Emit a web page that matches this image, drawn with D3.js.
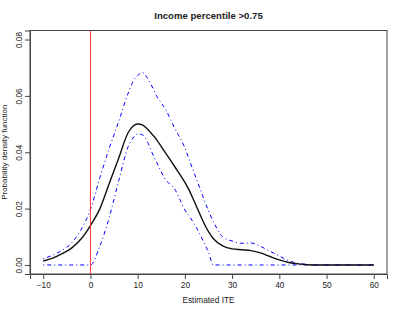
<!DOCTYPE html>
<html>
<head>
<meta charset="utf-8">
<script src="https://cdn.jsdelivr.net/npm/d3@7"></script>
<style>
  body { margin: 0; background: #fff; }
  svg text { font-family: "Liberation Sans", Arial, sans-serif; fill: #222; }
</style>
</head>
<body>
<div id="chart"></div>
<script>
// shared grid of x values (Estimated ITE)
const ite = [-10, -8, -6, -4, -2, 0, 2, 4, 6, 8, 9, 10, 11, 12, 13, 14, 15, 16, 17, 18, 19, 20,
  21, 22, 23, 24, 25, 26, 28, 30, 32, 34, 36, 38, 40, 42, 44, 46, 48, 50, 55, 60];

// density estimate
const density = [0.0014, 0.0024, 0.0040, 0.0060, 0.0092, 0.0140, 0.0200, 0.0290, 0.0380, 0.0470,
  0.0492, 0.0500, 0.0497, 0.0483, 0.0465, 0.0445, 0.0420, 0.0395, 0.0370, 0.0345, 0.0320, 0.0293,
  0.0262, 0.0225, 0.0187, 0.0150, 0.0118, 0.0094, 0.0068, 0.0057, 0.0054, 0.0051, 0.0043, 0.0030,
  0.0018, 0.0009, 0.0004, 0.0001, 0, 0, 0, 0];

// upper band
const upper = [0.0022, 0.0035, 0.0052, 0.0078, 0.0125, 0.0197, 0.0310, 0.0415, 0.0510, 0.0610,
  0.0650, 0.0672, 0.0683, 0.0665, 0.0635, 0.0600, 0.0575, 0.0550, 0.0515, 0.0480, 0.0450, 0.0415,
  0.0370, 0.0325, 0.0280, 0.0235, 0.0192, 0.0155, 0.0100, 0.0085, 0.0077, 0.0078, 0.0066, 0.0049,
  0.0032, 0.0015, 0.0006, 0.0002, 0, 0, 0, 0];

// lower band
const lower = [0, 0, 0, 0, 0, 0, 0.0067, 0.0170, 0.0300, 0.0420,
  0.0450, 0.0465, 0.0462, 0.0440, 0.0400, 0.0365, 0.0330, 0.0300, 0.0285, 0.0265, 0.0230, 0.0195,
  0.0172, 0.0145, 0.0115, 0.0080, 0.0045, 0, 0, 0, 0, 0, 0, 0,
  0, 0, 0, 0, 0, 0, 0, 0];

const xTicks = [-10, 0, 10, 20, 30, 40, 50, 60];
const yTicks = [0, 0.02, 0.04, 0.06, 0.08];

const W = 403, H = 312;
const box = {left: 30, right: 387, top: 30.5, bottom: 274};

const svg = d3.select("#chart").append("svg")
    .attr("width", W)
    .attr("height", H);

// R style 4% axis extension
const x = d3.scaleLinear().domain([-12.8, 62.8]).range([box.left, box.right]);
const y = d3.scaleLinear().domain([-0.0032, 0.0832]).range([box.bottom, box.top]);

const xAxis = d3.axisBottom(x).tickValues(xTicks).tickSize(5).tickPadding(3);
const yAxis = d3.axisLeft(y).tickValues(yTicks).tickSize(5).tickPadding(3)
    .tickFormat(d3.format(".2f"));

svg.append("g")
    .attr("transform", `translate(0,${box.bottom})`)
    .call(xAxis)
    .call(g => g.selectAll("text").style("font-size", "8.3px").attr("fill", "#222"))
    .call(g => g.selectAll("line,path").attr("stroke", "#444"));

const gy = svg.append("g")
    .attr("transform", `translate(${box.left},0)`)
    .call(yAxis)
    .call(g => g.selectAll("line,path").attr("stroke", "#444"));

gy.selectAll("text")
    .style("font-size", "8.3px")
    .attr("fill", "#222")
    .attr("text-anchor", "middle")
    .attr("dy", null)
    .attr("x", null)
    .attr("transform", "translate(-8,0) rotate(-90)");

// plot box
svg.append("rect")
    .attr("x", box.left)
    .attr("y", box.top)
    .attr("width", box.right - box.left)
    .attr("height", box.bottom - box.top)
    .attr("fill", "none")
    .attr("stroke", "#444")
    .attr("stroke-width", 1);

const rows = ite.map((v, i) => ({x: v, d: density[i], up: upper[i], lo: lower[i]}));

const line = key => d3.line()
    .x(d => x(d.x))
    .y(d => y(d[key]))
    .curve(d3.curveMonotoneX);

svg.append("path")
    .datum(rows)
    .attr("d", line("up"))
    .attr("fill", "none")
    .attr("stroke", "#0000ff")
    .attr("stroke-width", 1)
    .attr("stroke-dasharray", "1,3,4,3");

svg.append("path")
    .datum(rows)
    .attr("d", line("lo"))
    .attr("fill", "none")
    .attr("stroke", "#0000ff")
    .attr("stroke-width", 1)
    .attr("stroke-dasharray", "1,3,4,3");

svg.append("path")
    .datum(rows)
    .attr("d", line("d"))
    .attr("fill", "none")
    .attr("stroke", "#111")
    .attr("stroke-width", 1.4);

// reference line at zero
svg.append("line")
    .attr("x1", x(0)).attr("x2", x(0))
    .attr("y1", box.top).attr("y2", box.bottom)
    .attr("stroke", "#ff3333")
    .attr("stroke-width", 1);

svg.append("text")
    .attr("x", (box.left + box.right) / 2)
    .attr("y", 18.5)
    .attr("text-anchor", "middle")
    .style("font-size", "9.6px")
    .style("font-weight", "bold")
    .text("Income percentile >0.75");

svg.append("text")
    .attr("x", (box.left + box.right) / 2)
    .attr("y", 303)
    .attr("text-anchor", "middle")
    .style("font-size", "8.3px")
    .text("Estimated ITE");

svg.append("text")
    .attr("transform", `translate(7,${(box.top + box.bottom) / 2}) rotate(-90)`)
    .attr("text-anchor", "middle")
    .style("font-size", "8px")
    .text("Probability density function");
</script>
</body>
</html>
